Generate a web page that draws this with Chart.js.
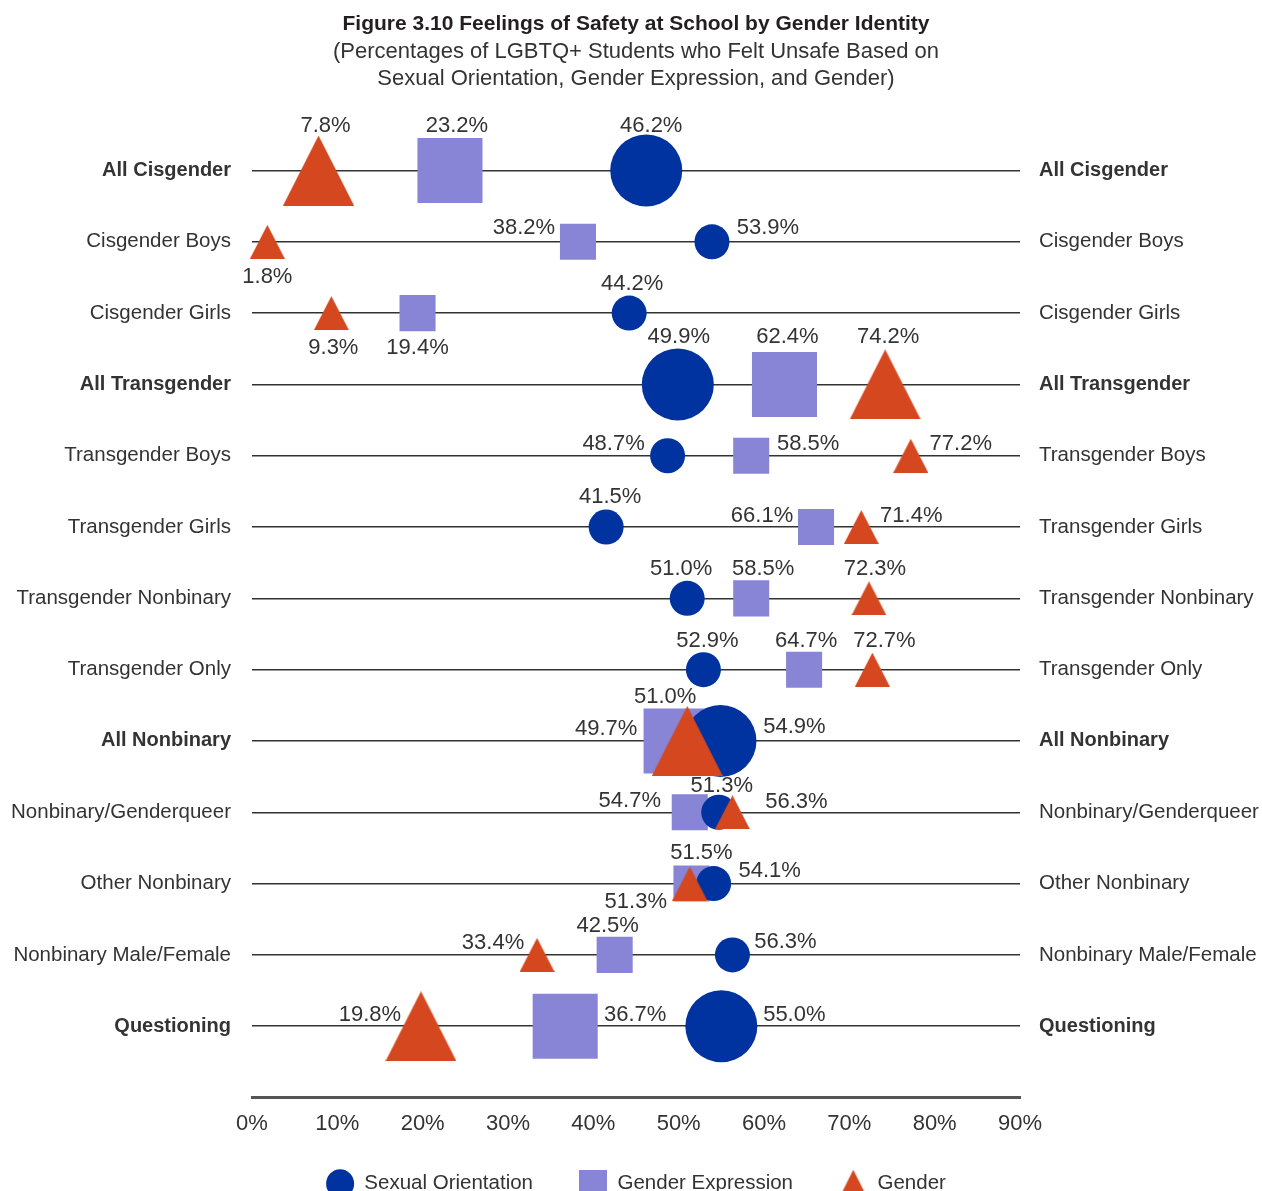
<!DOCTYPE html>
<html>
<head>
<meta charset="utf-8">
<script src="https://cdn.jsdelivr.net/npm/chart.js@4/dist/chart.umd.min.js"></script>
<style>
  html, body { margin: 0; padding: 0; background: #fff; overflow: hidden; }
  #outer { width: 1262px; height: 1191px; overflow: hidden; position: relative; }
  #wrap { width: 1262px; height: 1204px; position: relative; }
</style>
</head>
<body>
<div id="outer"><div id="wrap"><canvas id="c"></canvas></div></div>
<script>
// ---------------- DATA ----------------
const CATEGORIES = [
  'All Cisgender', 'Cisgender Boys', 'Cisgender Girls',
  'All Transgender', 'Transgender Boys', 'Transgender Girls',
  'Transgender Nonbinary', 'Transgender Only',
  'All Nonbinary', 'Nonbinary/Genderqueer', 'Other Nonbinary',
  'Nonbinary Male/Female', 'Questioning'
];
const SUMMARY_ROWS = ['All Cisgender', 'All Transgender', 'All Nonbinary', 'Questioning'];
const SEXUAL_ORIENTATION = [46.2, 53.9, 44.2, 49.9, 48.7, 41.5, 51.0, 52.9, 54.9, 54.7, 54.1, 56.3, 55.0];
const GENDER_EXPRESSION  = [23.2, 38.2, 19.4, 62.4, 58.5, 66.1, 58.5, 64.7, 49.7, 51.3, 51.5, 42.5, 36.7];
const GENDER             = [7.8, 1.8, 9.3, 74.2, 77.2, 71.4, 72.3, 72.7, 51.0, 56.3, 51.3, 33.4, 19.8];
const X_TICKS = [0, 10, 20, 30, 40, 50, 60, 70, 80, 90];
const TITLE = 'Figure 3.10 Feelings of Safety at School by Gender Identity';
const SUBTITLE = ['(Percentages of LGBTQ+ Students who Felt Unsafe Based on', 'Sexual Orientation, Gender Expression, and Gender)'];
const SERIES_NAMES = ['Sexual Orientation', 'Gender Expression', 'Gender'];

// ---------------- STYLE ----------------
const C_SO = '#0033a0', C_GE = '#8884d6', C_G = '#d4471f';
const TEXT = '#333333';
const FONT = '"Liberation Sans", Arial, sans-serif';
// label offsets (px) relative to each marker
const SO_LABEL_OFF = [[5,-45],[56,-14],[3,-29],[1,-47],[-54,-12],[4,-30],[-6,-29],[4,-29],[74,-14],[-89,-11],[56,-13],[53,-13],[73,-11]];
const GE_LABEL_OFF = [[7,-45],[-54,-14],[0,35],[3,-47],[57,-12],[-54,-11],[12,-29],[2,-29],[-70,-12],[32,-26],[10,-31],[-7,-29],[70,-11]];
const G_LABEL_OFF  = [[7,-45],[0,35],[2,35],[3,-47],[50,-12],[50,-11],[6,-29],[12,-29],[-22,-44],[64,-10],[-54,18],[-44,-12],[-51,-11]];

function triCanvas(w, h, color) {
  const c = document.createElement('canvas');
  c.width = w; c.height = h;
  const x = c.getContext('2d');
  x.fillStyle = color;
  x.beginPath(); x.moveTo(0, h); x.lineTo(w / 2, 0); x.lineTo(w, h); x.closePath(); x.fill();
  return c;
}
function rectCanvas(w, h, color) {
  const c = document.createElement('canvas');
  c.width = w; c.height = h;
  const x = c.getContext('2d');
  x.fillStyle = color; x.fillRect(0, 0, w, h);
  return c;
}
const TRI_BIG = triCanvas(71, 70, C_G);
const TRI_SMALL = triCanvas(35, 34, C_G);
const TRI_LEGEND = triCanvas(28, 28, C_G);
const RECT_LEGEND = rectCanvas(28, 28, C_GE);

const isBig = (i) => SUMMARY_ROWS.includes(CATEGORIES[i]);
const toPoints = (arr) => arr.map((v, i) => ({ x: v, y: i }));

const labelPlugin = {
  id: 'valueLabels',
  afterDatasetsDraw(chart) {
    const ctx = chart.ctx;
    ctx.save();
    ctx.font = '22px ' + FONT;
    ctx.fillStyle = TEXT;
    ctx.textAlign = 'center';
    ctx.textBaseline = 'middle';
    chart.data.datasets.forEach((ds, di) => {
      const meta = chart.getDatasetMeta(di);
      meta.data.forEach((el, i) => {
        const off = ds.labelOffsets[i];
        ctx.fillText(ds.data[i].x.toFixed(1) + '%', el.x + off[0], el.y + off[1]);
      });
    });
    ctx.restore();
  }
};

const yTicks = (scale) => { scale.ticks = CATEGORIES.map((_, i) => ({ value: i })); };
const yTickFont = (c) => {
  const bold = c.tick && SUMMARY_ROWS.includes(CATEGORIES[c.tick.value]);
  return { family: FONT, size: bold ? 20 : 20.5, weight: bold ? 'bold' : 'normal' };
};

new Chart(document.getElementById('c'), {
  type: 'scatter',
  data: {
    datasets: [
      {
        label: SERIES_NAMES[2], data: toPoints(GENDER), labelOffsets: G_LABEL_OFF,
        backgroundColor: C_G, borderWidth: 0,
        pointStyle: (c) => isBig(c.dataIndex) ? TRI_BIG : TRI_SMALL,
        pointRadius: 18, clip: false
      },
      {
        label: SERIES_NAMES[0], data: toPoints(SEXUAL_ORIENTATION), labelOffsets: SO_LABEL_OFF,
        backgroundColor: C_SO, borderWidth: 0, pointStyle: 'circle',
        pointRadius: (c) => isBig(c.dataIndex) ? 36 : 17.5, clip: false
      },
      {
        label: SERIES_NAMES[1], data: toPoints(GENDER_EXPRESSION), labelOffsets: GE_LABEL_OFF,
        backgroundColor: C_GE, borderWidth: 0, pointStyle: 'rect',
        pointRadius: (c) => isBig(c.dataIndex) ? 46 : 25.5, clip: false
      }
    ]
  },
  options: {
    responsive: true,
    maintainAspectRatio: false,
    animation: false,
    events: [],
    layout: { padding: 0 },
    scales: {
      x: {
        type: 'linear', min: 0, max: 90,
        afterBuildTicks: (s) => { s.ticks = X_TICKS.map(v => ({ value: v })); },
        afterFit: (s) => { s.height = 40; },
        grid: { display: false, drawTicks: false },
        border: { display: true, color: '#555555', width: 3 },
        ticks: { padding: 13, color: TEXT, font: { family: FONT, size: 22, lineHeight: 1.2 }, callback: (v) => v + '%', maxRotation: 0 }
      },
      y: {
        type: 'linear', position: 'left', min: -1, max: 13, reverse: true,
        afterBuildTicks: yTicks,
        afterFit: (s) => { s.width = 252; },
        grid: { color: '#333333', lineWidth: 1.5, drawTicks: false },
        border: { display: false },
        ticks: { padding: 21, color: TEXT, font: yTickFont, autoSkip: false, callback: (v) => CATEGORIES[v] }
      },
      y2: {
        type: 'linear', position: 'right', min: -1, max: 13, reverse: true,
        afterBuildTicks: yTicks,
        afterFit: (s) => { s.width = 242; },
        grid: { display: false, drawTicks: false },
        border: { display: false },
        ticks: { padding: 19, color: TEXT, font: yTickFont, autoSkip: false, callback: (v) => CATEGORIES[v] }
      }
    },
    plugins: {
      tooltip: { enabled: false },
      title: {
        display: true, fullSize: false, text: TITLE, color: '#231f20',
        font: { family: FONT, size: 21, weight: 'bold', lineHeight: 1.2 },
        padding: { top: 12, bottom: 1 }
      },
      subtitle: {
        display: true, fullSize: false, text: SUBTITLE, color: TEXT,
        font: { family: FONT, size: 22, lineHeight: 27 / 22 },
        padding: { top: 0, bottom: 7 }
      },
      legend: {
        display: true, fullSize: false, position: 'bottom',
        labels: {
          usePointStyle: true, pointStyleWidth: 28, padding: 36, color: TEXT,
          font: { family: FONT, size: 20.5 },
          generateLabels: (chart) => {
            const items = Chart.defaults.plugins.legend.labels.generateLabels(chart);
            const styles = { 0: TRI_LEGEND, 1: 'circle', 2: RECT_LEGEND };
            items.forEach(it => {
              it.pointStyle = styles[it.datasetIndex];
              it.lineWidth = 0;
              it.strokeStyle = 'rgba(0,0,0,0)';
              if (it.datasetIndex !== 0) it.text = it.text + '\u2002';
            });
            return items;
          },
          sort: (a, b) => ({ 1: 0, 2: 1, 0: 2 })[a.datasetIndex] - ({ 1: 0, 2: 1, 0: 2 })[b.datasetIndex]
        }
      }
    }
  },
  plugins: [labelPlugin]
});
</script>
</body>
</html>
